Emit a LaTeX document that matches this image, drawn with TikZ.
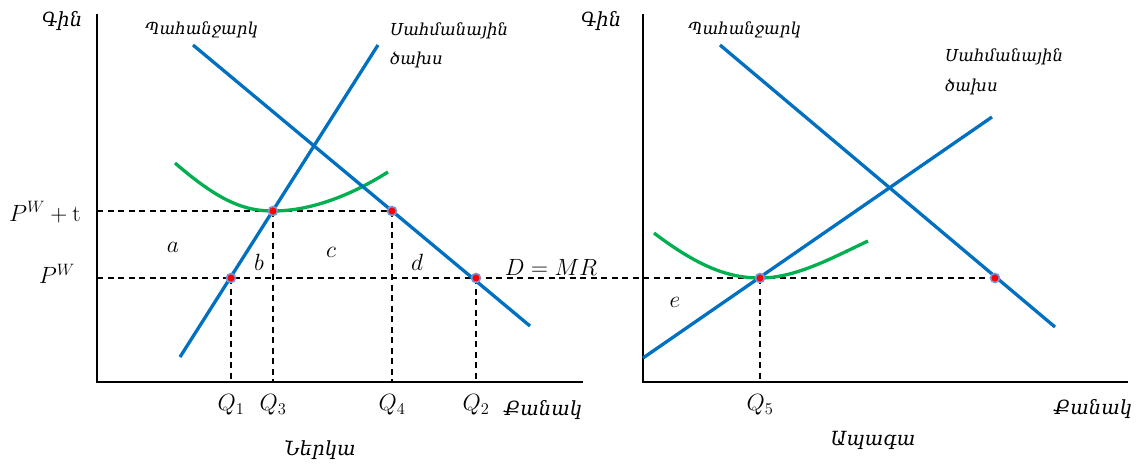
\documentclass[tikz,border=0pt]{standalone}
\usepackage{fix-cm}
\usepackage{fontspec}
\newfontfamily\arm{DejaVu Serif}
\definecolor{cblue}{RGB}{0,112,192}
\definecolor{cgreen}{RGB}{0,176,80}
\definecolor{ring}{RGB}{120,150,215}
\begin{document}
\begin{tikzpicture}[x=1pt,y=-1pt,
  axis/.style={line width=1.8pt, draw=black},
  bline/.style={line width=3.3pt, draw=cblue},
  gline/.style={line width=3.3pt, draw=cgreen},
  guide/.style={dashed, dash pattern=on 6pt off 4.5pt, line width=1.4pt, draw=black},
  dot/.style={circle, fill=red, draw=ring, line width=1.6pt, inner sep=0pt, minimum size=9pt},
  armlbl/.style={font=\arm\itshape\fontsize{16.5}{19}\selectfont, inner sep=0pt},
  armbig/.style={font=\arm\itshape\fontsize{19.5}{22}\selectfont, inner sep=0pt},
  mlbl/.style={font=\fontsize{23.5}{27}\selectfont, inner sep=0pt}]
\useasboundingbox (0,0) rectangle (1144,464);
% ---------- left panel ----------
\coordinate (LYT) at (97,14);
\coordinate (LO) at (97,382);
\coordinate (LXE) at (583,382);
\coordinate (LyPt) at (97,211);
\coordinate (LyP) at (97,278);
\coordinate (LxQ1) at (231,382);
\coordinate (LxQ3) at (273,382);
\coordinate (LxQ4) at (392,382);
\coordinate (LxQ2) at (476,382);
\coordinate (dL1) at (193,45);
\coordinate (dL2) at (530,326);
\coordinate (mL1) at (378,45);
\coordinate (mL2) at (180,357);
% ---------- right panel ----------
\coordinate (RYT) at (643,14);
\coordinate (RO) at (643,382);
\coordinate (RXE) at (1128,382);
\coordinate (RxQ5) at (760,382);
\coordinate (dR1) at (720,45);
\coordinate (dR2) at (1055,327);
\coordinate (mR1) at (643,358);
\coordinate (mR2) at (992,117);
% dots (positions)
\coordinate (p1) at (231,278);
\coordinate (p3) at (273,211);
\coordinate (p4) at (392,211);
\coordinate (p2) at (476,278);
\coordinate (p5) at (760,278);
\coordinate (p6) at (995,278);
% dashed guides
\draw[guide] (LyPt) -- (p4);
\draw[guide] (LyP) -- (p6);
\draw[guide] (p1) -- (LxQ1);
\draw[guide] (p3) -- (LxQ3);
\draw[guide] (p4) -- (LxQ4);
\draw[guide] (p2) -- (LxQ2);
\draw[guide] (p5) -- (RxQ5);
% axes
\draw[axis] (LYT) -- (LO) -- (LXE);
\draw[axis] (RYT) -- (RO) -- (RXE);
% green curves
\draw[gline] (175,163) .. controls (220,202) and (245,211) .. (p3) .. controls (310,211) and (350,196) .. (388,172);
\draw[gline] (654,233) .. controls (700,268) and (730,278) .. (p5) .. controls (795,278) and (830,259) .. (868,241);
% blue lines
\draw[bline] (dL1) -- (dL2);
\draw[bline] (mL1) -- (mL2);
\draw[bline] (dR1) -- (dR2);
\draw[bline] (mR1) -- (mR2);
% dots
\foreach \p in {p1,p2,p3,p4,p5,p6} \node[dot] (d\p) at (\p) {};
% labels left
\node[armbig] (gin1) at (62,21) {Գին};
\node[armlbl, anchor=west] (dem1) at (145,30) {Պահանջարկ};
\node[armlbl, anchor=west] (mc1a) at (390,31) {Սահմանային};
\node[armlbl, anchor=west] (mc1b) at (390,60) {ծախս};
\node[mlbl, anchor=east] (lPt) at (81,212) {$P^W+\mathrm{t}$};
\node[mlbl, anchor=east] (lP) at (75,274) {$P^W$};
\node[mlbl] (la) at (173,247) {$a$};
\node[mlbl] (lb) at (259,262) {$b$};
\node[mlbl] (lc) at (331,252) {$c$};
\node[mlbl] (ld) at (417,262) {$d$};
\node[mlbl] (lDMR) at (551,267) {$D=MR$};
\node[mlbl] (lq1) at (231,405) {$Q_1$};
\node[mlbl] (lq3) at (273,405) {$Q_3$};
\node[mlbl] (lq4) at (392,405) {$Q_4$};
\node[mlbl] (lq2) at (476,405) {$Q_2$};
\node[armbig] (qan1) at (543,410) {Քանակ};
\node[armbig] (ner) at (320,450) {Ներկա};
% labels right
\node[armbig] (gin2) at (601,21) {Գին};
\node[armlbl, anchor=west] (dem2) at (688,30) {Պահանջարկ};
\node[armlbl, anchor=west] (mc2a) at (945,57) {Սահմանային};
\node[armlbl, anchor=west] (mc2b) at (945,87) {ծախս};
\node[mlbl] (le) at (675,302) {$e$};
\node[mlbl] (lq5) at (760,405) {$Q_5$};
\node[armbig] (qan2) at (1093,409) {Քանակ};
\node[armbig] (apa) at (873,440) {Ապագա};
\end{tikzpicture}
\end{document}
